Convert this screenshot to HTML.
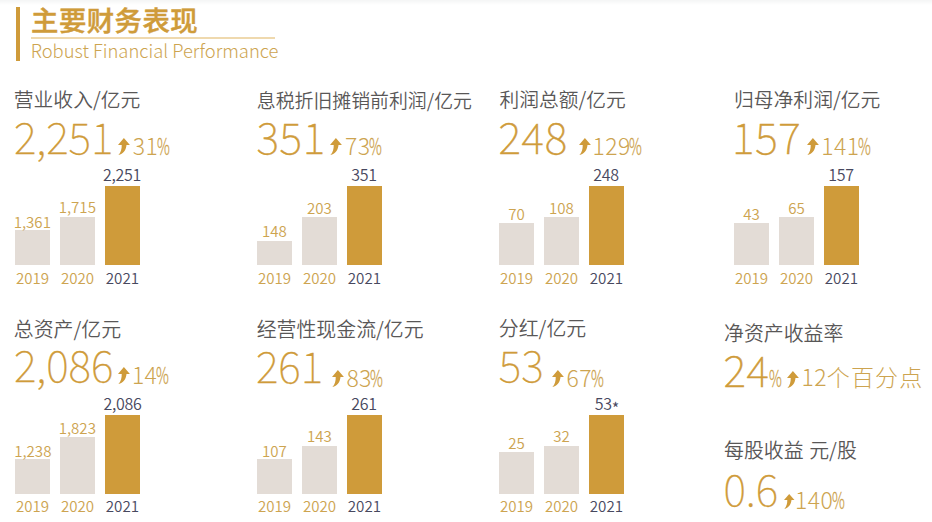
<!DOCTYPE html>
<html><head><meta charset="utf-8"><title>主要财务表现</title>
<style>
*{margin:0;padding:0;box-sizing:border-box}
html,body{width:932px;height:522px;overflow:hidden;background:#fff}
body{position:relative;font-family:"Noto Sans CJK SC","Liberation Sans",sans-serif}
.t{position:absolute;white-space:nowrap;line-height:1}
.topshade{position:absolute;left:0;top:0;width:932px;height:5px;background:linear-gradient(#f4f5f5,#fff)}
.vbar{position:absolute;left:16px;top:7px;width:4px;height:54px;background:#cf9b3a}
.title{font-weight:500;color:#cf9b3a;letter-spacing:0.45px;-webkit-text-stroke:0.45px #cf9b3a}
.uline{position:absolute;left:31px;top:37px;width:244px;height:1.5px;background:#efd9ae}
.sub{font-weight:300;color:#cda450}
.lbl{color:#595757;font-weight:350}
.big{font-weight:100;color:#cf9b3a;-webkit-text-stroke:0.3px #cf9b3a}
.bigb{-webkit-text-stroke:0.5px #cf9b3a;letter-spacing:0.7px}
.pct{font-weight:300;color:#cda450;letter-spacing:0.4px}
.pc{display:inline-block;transform-origin:0 50%;transform:scaleX(.62);-webkit-text-stroke:0.35px #cda450;letter-spacing:0;margin-left:-1.5px}
.bar{position:absolute;width:35px}
.g{background:#e3dcd6}
.o{background:#cf9b3a}
.l{font-weight:350;color:#cda450;font-size:15.1px}
.d{font-weight:350;color:#47485e;font-size:15.2px}
.dv{font-weight:350;color:#47485e;font-size:16px;letter-spacing:-0.3px}
.star{position:relative;top:4.6px;font-size:16.5px;margin-left:0;letter-spacing:0}
svg.arr{position:absolute;overflow:visible}
</style></head><body>
<div class="topshade"></div>
<div class="vbar"></div>
<div id="e1" class="t title" style="left:31.1px;top:5.9px;font-size:27.4px">主要财务表现</div>
<div class="uline"></div>
<div id="e2" class="t sub" style="left:30.66px;top:40.58px;font-size:18.4px">Robust Financial Performance</div>
<div id="e3" class="t lbl" style="left:13.81px;top:89.1px;font-size:19.8px">营业收入/亿元</div>
<div id="e4" class="t big" style="left:13.88px;top:114.25px;font-size:43px">2,251</div>
<svg class="arr" style="left:117.9px;top:138.13px" width="11.9" height="16.97" viewBox="0 0 11.5 16.4"><path d="M5.7 0 L11.5 6.7 L8.2 6.7 C7.9 11.5 5 15.6 0.4 16.4 C2.8 13.8 3.7 10.5 3.6 6.7 L0 6.7 Z" fill="#cf9b3a"/></svg>
<div id="e5" class="t pct" style="left:132.68px;top:133.77px;font-size:23px">31<span class="pc">%</span></div>
<div class="bar g" style="left:15px;top:230px;height:35px"></div>
<div id="e6" class="t l" style="left:13.74px;top:213.87px">1,361</div>
<div id="e7" class="t l" style="left:15.89px;top:270.27px">2019</div>
<div class="bar g" style="left:60px;top:217px;height:48px"></div>
<div id="e8" class="t l" style="left:58.74px;top:199.37px">1,715</div>
<div id="e9" class="t l" style="left:60.89px;top:270.27px">2020</div>
<div class="bar o" style="left:105px;top:186px;height:79px"></div>
<div id="e10" class="t dv" style="left:103px;top:166.22px">2,251</div>
<div id="e11" class="t d" style="left:105.78px;top:270.17px">2021</div>
<div id="e12" class="t lbl" style="left:256.74px;top:91.2px;font-size:18.9px">息税折旧摊销前利润/亿元</div>
<div id="e13" class="t big bigb" style="left:256.48px;top:114.25px;font-size:43px">351</div>
<svg class="arr" style="left:330.3px;top:138.13px" width="11.9" height="16.97" viewBox="0 0 11.5 16.4"><path d="M5.7 0 L11.5 6.7 L8.2 6.7 C7.9 11.5 5 15.6 0.4 16.4 C2.8 13.8 3.7 10.5 3.6 6.7 L0 6.7 Z" fill="#cf9b3a"/></svg>
<div id="e14" class="t pct" style="left:345.08px;top:133.77px;font-size:23px">73<span class="pc">%</span></div>
<div class="bar g" style="left:257px;top:241.25px;height:23.75px"></div>
<div id="e15" class="t l" style="left:262.04px;top:222.87px">148</div>
<div id="e16" class="t l" style="left:257.89px;top:270.27px">2019</div>
<div class="bar g" style="left:302px;top:217px;height:48px"></div>
<div id="e17" class="t l" style="left:307.04px;top:200.37px">203</div>
<div id="e18" class="t l" style="left:302.89px;top:270.27px">2020</div>
<div class="bar o" style="left:347px;top:186px;height:79px"></div>
<div id="e19" class="t dv" style="left:351.3px;top:165.77px">351</div>
<div id="e20" class="t d" style="left:347.78px;top:270.17px">2021</div>
<div id="e21" class="t lbl" style="left:499.41px;top:89.12px;font-size:19.75px">利润总额/亿元</div>
<div id="e22" class="t big bigb" style="left:498.48px;top:114.25px;font-size:43px">248</div>
<svg class="arr" style="left:578.5px;top:138.13px" width="11.9" height="16.97" viewBox="0 0 11.5 16.4"><path d="M5.7 0 L11.5 6.7 L8.2 6.7 C7.9 11.5 5 15.6 0.4 16.4 C2.8 13.8 3.7 10.5 3.6 6.7 L0 6.7 Z" fill="#cf9b3a"/></svg>
<div id="e23" class="t pct" style="left:592.48px;top:133.77px;font-size:23px">129<span class="pc">%</span></div>
<div class="bar g" style="left:499px;top:223px;height:42px"></div>
<div id="e24" class="t l" style="left:508.19px;top:206.37px">70</div>
<div id="e25" class="t l" style="left:499.89px;top:270.27px">2019</div>
<div class="bar g" style="left:544px;top:217px;height:48px"></div>
<div id="e26" class="t l" style="left:549.04px;top:200.37px">108</div>
<div id="e27" class="t l" style="left:544.89px;top:270.27px">2020</div>
<div class="bar o" style="left:589px;top:186px;height:79px"></div>
<div id="e28" class="t dv" style="left:593.3px;top:165.77px">248</div>
<div id="e29" class="t d" style="left:589.78px;top:270.17px">2021</div>
<div id="e30" class="t lbl" style="left:734.01px;top:89.1px;font-size:19.8px">归母净利润/亿元</div>
<div id="e31" class="t big bigb" style="left:732.08px;top:114.25px;font-size:43px">157</div>
<svg class="arr" style="left:807.3px;top:138.13px" width="11.9" height="16.97" viewBox="0 0 11.5 16.4"><path d="M5.7 0 L11.5 6.7 L8.2 6.7 C7.9 11.5 5 15.6 0.4 16.4 C2.8 13.8 3.7 10.5 3.6 6.7 L0 6.7 Z" fill="#cf9b3a"/></svg>
<div id="e32" class="t pct" style="left:821.28px;top:133.77px;font-size:23px">141<span class="pc">%</span></div>
<div class="bar g" style="left:734px;top:223px;height:42px"></div>
<div id="e33" class="t l" style="left:743.2px;top:206.37px">43</div>
<div id="e34" class="t l" style="left:734.89px;top:270.27px">2019</div>
<div class="bar g" style="left:779px;top:217px;height:48px"></div>
<div id="e35" class="t l" style="left:788.2px;top:200.37px">65</div>
<div id="e36" class="t l" style="left:779.89px;top:270.27px">2020</div>
<div class="bar o" style="left:824px;top:186px;height:79px"></div>
<div id="e37" class="t dv" style="left:828.3px;top:165.77px">157</div>
<div id="e38" class="t d" style="left:824.78px;top:270.17px">2021</div>
<div id="e39" class="t lbl" style="left:13.8px;top:319.25px;font-size:19.9px">总资产/亿元</div>
<div id="e40" class="t big" style="left:13.88px;top:342.35px;font-size:43px">2,086</div>
<svg class="arr" style="left:118.1px;top:366.93px" width="11.9" height="16.97" viewBox="0 0 11.5 16.4"><path d="M5.7 0 L11.5 6.7 L8.2 6.7 C7.9 11.5 5 15.6 0.4 16.4 C2.8 13.8 3.7 10.5 3.6 6.7 L0 6.7 Z" fill="#cf9b3a"/></svg>
<div id="e41" class="t pct" style="left:131.88px;top:363.47px;font-size:23px">14<span class="pc">%</span></div>
<div class="bar g" style="left:15px;top:459px;height:35px"></div>
<div id="e42" class="t l" style="left:14.24px;top:442.87px">1,238</div>
<div id="e43" class="t l" style="left:15.89px;top:497.87px">2019</div>
<div class="bar g" style="left:60px;top:437px;height:57px"></div>
<div id="e44" class="t l" style="left:58.74px;top:420.37px">1,823</div>
<div id="e45" class="t l" style="left:60.89px;top:497.87px">2020</div>
<div class="bar o" style="left:105px;top:415.25px;height:78.75px"></div>
<div id="e46" class="t dv" style="left:103.5px;top:395.27px">2,086</div>
<div id="e47" class="t d" style="left:105.78px;top:497.77px">2021</div>
<div id="e48" class="t lbl" style="left:256.7px;top:319.25px;font-size:19.9px">经营性现金流/亿元</div>
<div id="e49" class="t big" style="left:255.88px;top:343.05px;font-size:43px">261</div>
<svg class="arr" style="left:331.8px;top:370.03px" width="11.9" height="16.97" viewBox="0 0 11.5 16.4"><path d="M5.7 0 L11.5 6.7 L8.2 6.7 C7.9 11.5 5 15.6 0.4 16.4 C2.8 13.8 3.7 10.5 3.6 6.7 L0 6.7 Z" fill="#cf9b3a"/></svg>
<div id="e50" class="t pct" style="left:346.38px;top:365.67px;font-size:23px">83<span class="pc">%</span></div>
<div class="bar g" style="left:257px;top:459px;height:35px"></div>
<div id="e51" class="t l" style="left:262.04px;top:442.87px">107</div>
<div id="e52" class="t l" style="left:257.89px;top:497.87px">2019</div>
<div class="bar g" style="left:302px;top:446.25px;height:47.75px"></div>
<div id="e53" class="t l" style="left:307.04px;top:427.87px">143</div>
<div id="e54" class="t l" style="left:302.89px;top:497.87px">2020</div>
<div class="bar o" style="left:347px;top:415.25px;height:78.75px"></div>
<div id="e55" class="t dv" style="left:351.3px;top:395.27px">261</div>
<div id="e56" class="t d" style="left:347.78px;top:497.77px">2021</div>
<div id="e57" class="t lbl" style="left:498.8px;top:317.65px;font-size:19.9px">分红/亿元</div>
<div id="e58" class="t big" style="left:498.78px;top:342.35px;font-size:43px">53</div>
<svg class="arr" style="left:551.9px;top:370.03px" width="11.9" height="16.97" viewBox="0 0 11.5 16.4"><path d="M5.7 0 L11.5 6.7 L8.2 6.7 C7.9 11.5 5 15.6 0.4 16.4 C2.8 13.8 3.7 10.5 3.6 6.7 L0 6.7 Z" fill="#cf9b3a"/></svg>
<div id="e59" class="t pct" style="left:566.58px;top:365.67px;font-size:23px">67<span class="pc">%</span></div>
<div class="bar g" style="left:499px;top:452px;height:42px"></div>
<div id="e60" class="t l" style="left:508.19px;top:435.37px">25</div>
<div id="e61" class="t l" style="left:499.89px;top:497.87px">2019</div>
<div class="bar g" style="left:544px;top:446.25px;height:47.75px"></div>
<div id="e62" class="t l" style="left:553.2px;top:427.87px">32</div>
<div id="e63" class="t l" style="left:544.89px;top:497.87px">2020</div>
<div class="bar o" style="left:589px;top:415.25px;height:78.75px"></div>
<div id="e64" class="t dv" style="left:594.8px;top:395.27px">53<span class="star">*</span></div>
<div id="e65" class="t d" style="left:589.78px;top:497.77px">2021</div>
<div id="e66" class="t lbl" style="left:724px;top:323.1px;font-size:19.9px">净资产收益率</div>
<div id="e67" class="t big bigb" style="left:723.38px;top:347.05px;font-size:43px">24</div>
<div id="e68" class="t pct" style="left:770.78px;top:365.67px;font-size:23px"><span class="pc">%</span></div>
<svg class="arr" style="left:787.1px;top:370.73px" width="11.9" height="16.97" viewBox="0 0 11.5 16.4"><path d="M5.7 0 L11.5 6.7 L8.2 6.7 C7.9 11.5 5 15.6 0.4 16.4 C2.8 13.8 3.7 10.5 3.6 6.7 L0 6.7 Z" fill="#cf9b3a"/></svg>
<div id="e69" class="t pct" style="left:801.48px;top:365px;font-size:23px">12<span style="letter-spacing:1.2px;margin-left:-0.2px">个百分点</span></div>
<div id="e70" class="t lbl" style="left:724px;top:440.05px;font-size:19.9px;word-spacing:1.2px">每股收益 元/股</div>
<div id="e71" class="t big" style="left:723.38px;top:465.75px;font-size:43px">0.6</div>
<svg class="arr" style="left:783.8px;top:493.66px" width="10.47" height="14.94" viewBox="0 0 11.5 16.4"><path d="M5.7 0 L11.5 6.7 L8.2 6.7 C7.9 11.5 5 15.6 0.4 16.4 C2.8 13.8 3.7 10.5 3.6 6.7 L0 6.7 Z" fill="#cf9b3a"/></svg>
<div id="e72" class="t pct" style="left:794.98px;top:487.57px;font-size:23px">140<span class="pc">%</span></div>
</body></html>
